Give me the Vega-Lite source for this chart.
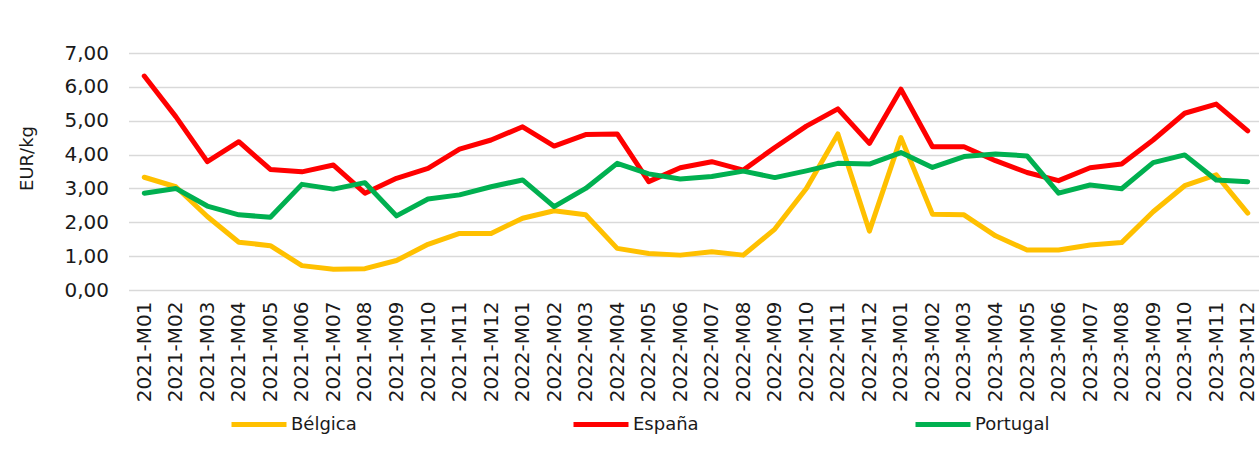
{
  "$schema": "https://vega.github.io/schema/vega-lite/v6.json",
  "autosize": "none",
  "padding": {"left": 128.5, "top": 53, "right": 0, "bottom": 167},
  "width": 1135,
  "height": 237,
  "background": "#ffffff",
  "config": {
    "view": {"stroke": null},
    "font": "DejaVu Sans",
    "axis": {"labelColor": "#1a1a1a", "titleColor": "#1a1a1a", "labelFont": "DejaVu Sans", "titleFont": "DejaVu Sans"},
    "legend": {"labelColor": "#1a1a1a", "labelFont": "DejaVu Sans"}
  },
  "data": {
    "values": [
      {"mes": "2021-M01", "pais": "Bélgica", "valor": 3.33}, {"mes": "2021-M01", "pais": "España", "valor": 6.32}, {"mes": "2021-M01", "pais": "Portugal", "valor": 2.86},
      {"mes": "2021-M02", "pais": "Bélgica", "valor": 3.05}, {"mes": "2021-M02", "pais": "España", "valor": 5.12}, {"mes": "2021-M02", "pais": "Portugal", "valor": 3.00},
      {"mes": "2021-M03", "pais": "Bélgica", "valor": 2.17}, {"mes": "2021-M03", "pais": "España", "valor": 3.79}, {"mes": "2021-M03", "pais": "Portugal", "valor": 2.48},
      {"mes": "2021-M04", "pais": "Bélgica", "valor": 1.41}, {"mes": "2021-M04", "pais": "España", "valor": 4.38}, {"mes": "2021-M04", "pais": "Portugal", "valor": 2.22},
      {"mes": "2021-M05", "pais": "Bélgica", "valor": 1.31}, {"mes": "2021-M05", "pais": "España", "valor": 3.56}, {"mes": "2021-M05", "pais": "Portugal", "valor": 2.15},
      {"mes": "2021-M06", "pais": "Bélgica", "valor": 0.72}, {"mes": "2021-M06", "pais": "España", "valor": 3.49}, {"mes": "2021-M06", "pais": "Portugal", "valor": 3.12},
      {"mes": "2021-M07", "pais": "Bélgica", "valor": 0.61}, {"mes": "2021-M07", "pais": "España", "valor": 3.69}, {"mes": "2021-M07", "pais": "Portugal", "valor": 2.98},
      {"mes": "2021-M08", "pais": "Bélgica", "valor": 0.63}, {"mes": "2021-M08", "pais": "España", "valor": 2.86}, {"mes": "2021-M08", "pais": "Portugal", "valor": 3.17},
      {"mes": "2021-M09", "pais": "Bélgica", "valor": 0.87}, {"mes": "2021-M09", "pais": "España", "valor": 3.30}, {"mes": "2021-M09", "pais": "Portugal", "valor": 2.19},
      {"mes": "2021-M10", "pais": "Bélgica", "valor": 1.35}, {"mes": "2021-M10", "pais": "España", "valor": 3.59}, {"mes": "2021-M10", "pais": "Portugal", "valor": 2.69},
      {"mes": "2021-M11", "pais": "Bélgica", "valor": 1.67}, {"mes": "2021-M11", "pais": "España", "valor": 4.16}, {"mes": "2021-M11", "pais": "Portugal", "valor": 2.81},
      {"mes": "2021-M12", "pais": "Bélgica", "valor": 1.67}, {"mes": "2021-M12", "pais": "España", "valor": 4.43}, {"mes": "2021-M12", "pais": "Portugal", "valor": 3.05},
      {"mes": "2022-M01", "pais": "Bélgica", "valor": 2.12}, {"mes": "2022-M01", "pais": "España", "valor": 4.82}, {"mes": "2022-M01", "pais": "Portugal", "valor": 3.25},
      {"mes": "2022-M02", "pais": "Bélgica", "valor": 2.34}, {"mes": "2022-M02", "pais": "España", "valor": 4.25}, {"mes": "2022-M02", "pais": "Portugal", "valor": 2.46},
      {"mes": "2022-M03", "pais": "Bélgica", "valor": 2.22}, {"mes": "2022-M03", "pais": "España", "valor": 4.59}, {"mes": "2022-M03", "pais": "Portugal", "valor": 3.00},
      {"mes": "2022-M04", "pais": "Bélgica", "valor": 1.23}, {"mes": "2022-M04", "pais": "España", "valor": 4.61}, {"mes": "2022-M04", "pais": "Portugal", "valor": 3.74},
      {"mes": "2022-M05", "pais": "Bélgica", "valor": 1.08}, {"mes": "2022-M05", "pais": "España", "valor": 3.20}, {"mes": "2022-M05", "pais": "Portugal", "valor": 3.43},
      {"mes": "2022-M06", "pais": "Bélgica", "valor": 1.03}, {"mes": "2022-M06", "pais": "España", "valor": 3.61}, {"mes": "2022-M06", "pais": "Portugal", "valor": 3.28},
      {"mes": "2022-M07", "pais": "Bélgica", "valor": 1.13}, {"mes": "2022-M07", "pais": "España", "valor": 3.79}, {"mes": "2022-M07", "pais": "Portugal", "valor": 3.35},
      {"mes": "2022-M08", "pais": "Bélgica", "valor": 1.03}, {"mes": "2022-M08", "pais": "España", "valor": 3.54}, {"mes": "2022-M08", "pais": "Portugal", "valor": 3.51},
      {"mes": "2022-M09", "pais": "Bélgica", "valor": 1.80}, {"mes": "2022-M09", "pais": "España", "valor": 4.21}, {"mes": "2022-M09", "pais": "Portugal", "valor": 3.32},
      {"mes": "2022-M10", "pais": "Bélgica", "valor": 3.00}, {"mes": "2022-M10", "pais": "España", "valor": 4.84}, {"mes": "2022-M10", "pais": "Portugal", "valor": 3.52},
      {"mes": "2022-M11", "pais": "Bélgica", "valor": 4.61}, {"mes": "2022-M11", "pais": "España", "valor": 5.35}, {"mes": "2022-M11", "pais": "Portugal", "valor": 3.74},
      {"mes": "2022-M12", "pais": "Bélgica", "valor": 1.74}, {"mes": "2022-M12", "pais": "España", "valor": 4.33}, {"mes": "2022-M12", "pais": "Portugal", "valor": 3.72},
      {"mes": "2023-M01", "pais": "Bélgica", "valor": 4.50}, {"mes": "2023-M01", "pais": "España", "valor": 5.93}, {"mes": "2023-M01", "pais": "Portugal", "valor": 4.06},
      {"mes": "2023-M02", "pais": "Bélgica", "valor": 2.24}, {"mes": "2023-M02", "pais": "España", "valor": 4.23}, {"mes": "2023-M02", "pais": "Portugal", "valor": 3.62},
      {"mes": "2023-M03", "pais": "Bélgica", "valor": 2.22}, {"mes": "2023-M03", "pais": "España", "valor": 4.23}, {"mes": "2023-M03", "pais": "Portugal", "valor": 3.94},
      {"mes": "2023-M04", "pais": "Bélgica", "valor": 1.60}, {"mes": "2023-M04", "pais": "España", "valor": 3.82}, {"mes": "2023-M04", "pais": "Portugal", "valor": 4.02},
      {"mes": "2023-M05", "pais": "Bélgica", "valor": 1.18}, {"mes": "2023-M05", "pais": "España", "valor": 3.47}, {"mes": "2023-M05", "pais": "Portugal", "valor": 3.96},
      {"mes": "2023-M06", "pais": "Bélgica", "valor": 1.18}, {"mes": "2023-M06", "pais": "España", "valor": 3.23}, {"mes": "2023-M06", "pais": "Portugal", "valor": 2.86},
      {"mes": "2023-M07", "pais": "Bélgica", "valor": 1.33}, {"mes": "2023-M07", "pais": "España", "valor": 3.61}, {"mes": "2023-M07", "pais": "Portugal", "valor": 3.10},
      {"mes": "2023-M08", "pais": "Bélgica", "valor": 1.40}, {"mes": "2023-M08", "pais": "España", "valor": 3.72}, {"mes": "2023-M08", "pais": "Portugal", "valor": 2.99},
      {"mes": "2023-M09", "pais": "Bélgica", "valor": 2.31}, {"mes": "2023-M09", "pais": "España", "valor": 4.43}, {"mes": "2023-M09", "pais": "Portugal", "valor": 3.76},
      {"mes": "2023-M10", "pais": "Bélgica", "valor": 3.08}, {"mes": "2023-M10", "pais": "España", "valor": 5.22}, {"mes": "2023-M10", "pais": "Portugal", "valor": 3.99},
      {"mes": "2023-M11", "pais": "Bélgica", "valor": 3.40}, {"mes": "2023-M11", "pais": "España", "valor": 5.49}, {"mes": "2023-M11", "pais": "Portugal", "valor": 3.25},
      {"mes": "2023-M12", "pais": "Bélgica", "valor": 2.27}, {"mes": "2023-M12", "pais": "España", "valor": 4.70}, {"mes": "2023-M12", "pais": "Portugal", "valor": 3.20}
    ]
  },
  "mark": {"type": "line", "strokeWidth": 5, "strokeCap": "round", "strokeJoin": "round"},
  "encoding": {
    "x": {
      "field": "mes",
      "type": "ordinal",
      "sort": null,
      "scale": {"type": "point", "padding": 0.5},
      "axis": {
        "title": null,
        "labelAngle": -90,
        "labelFontSize": 20,
        "labelPadding": 11,
        "ticks": false,
        "domain": false,
        "grid": false
      }
    },
    "y": {
      "field": "valor",
      "type": "quantitative",
      "scale": {"domain": [0, 7], "nice": false, "zero": true},
      "axis": {
        "title": "EUR/kg",
        "titleFontSize": 18,
        "titleFontWeight": "normal",
        "titleX": -92,
        "titleY": 105,
        "titleAngle": -90,
        "titleAlign": "center",
        "titleBaseline": "bottom",
        "values": [0, 1, 2, 3, 4, 5, 6, 7],
        "labelExpr": "replace(format(datum.value, '.2f'), '.', ',')",
        "labelFontSize": 20,
        "labelPadding": 20,
        "ticks": false,
        "domain": false,
        "grid": true,
        "gridColor": "#d9d9d9",
        "gridWidth": 1.5
      }
    },
    "color": {
      "field": "pais",
      "type": "nominal",
      "scale": {"domain": ["Bélgica", "España", "Portugal"], "range": ["#FFC000", "#FF0000", "#00B050"]},
      "legend": {
        "title": null,
        "orient": "none",
        "legendX": 100.5,
        "legendY": 341.5,
        "direction": "horizontal",
        "columns": 3,
        "gridAlign": "all",
        "columnPadding": 197,
        "padding": 0,
        "symbolType": "stroke",
        "symbolSize": 3025,
        "symbolStrokeWidth": 5,
        "labelFontSize": 18,
        "labelOffset": 2
      }
    }
  }
}
